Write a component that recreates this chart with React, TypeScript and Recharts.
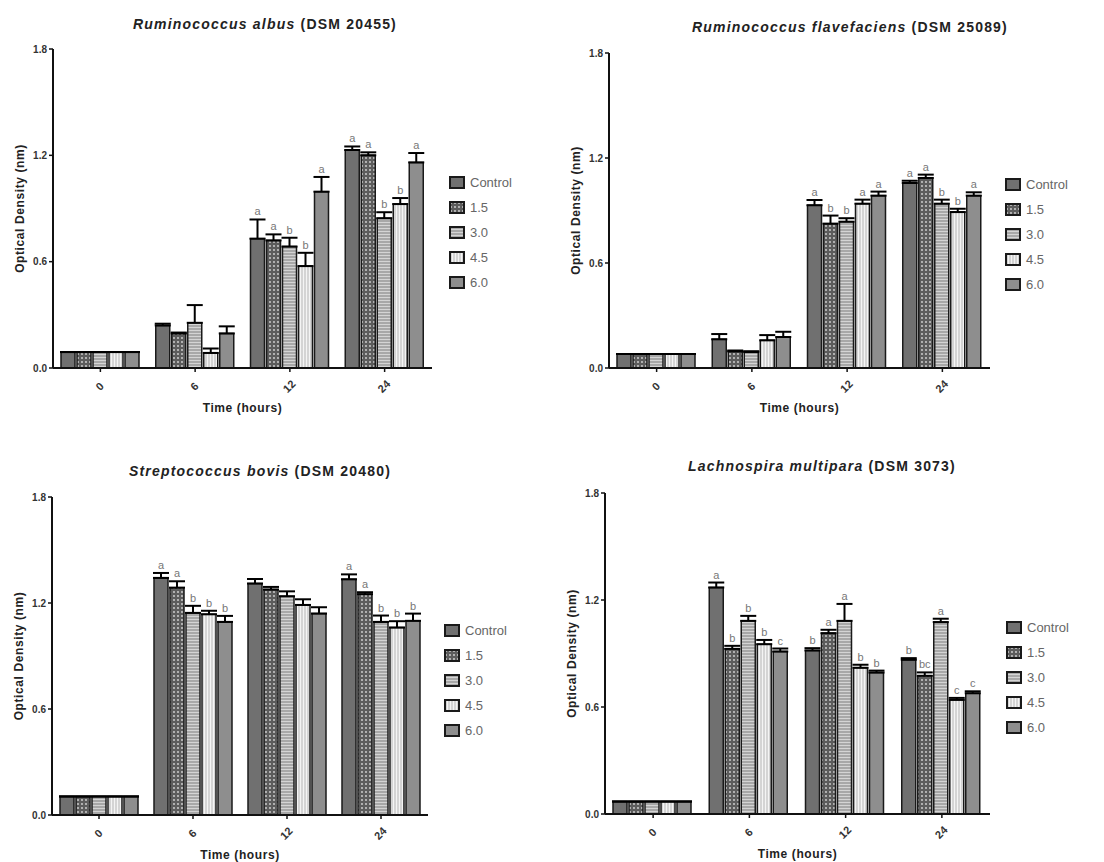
import React from 'react';
import { BarChart, Bar, XAxis, YAxis, ErrorBar, LabelList } from 'recharts';

const timeLabels = ['0', '6', '12', '24'];
const doseNames = ['Control', '1.5', '3.0', '4.5', '6.0'];
const yTicks = [0, 0.6, 1.2, 1.8];

// rows = dose (Control, 1.5, 3.0, 4.5, 6.0), columns = time (0, 6, 12, 24 h)
const albusMean = [
  [0.09, 0.24, 0.73, 1.23],
  [0.09, 0.195, 0.72, 1.2],
  [0.09, 0.255, 0.685, 0.845],
  [0.09, 0.085, 0.575, 0.925],
  [0.09, 0.195, 0.995, 1.16],
];
const albusErr = [
  [0, 0.01, 0.108, 0.02],
  [0, 0.005, 0.034, 0.017],
  [0, 0.1, 0.05, 0.034],
  [0, 0.025, 0.075, 0.034],
  [0, 0.04, 0.083, 0.053],
];
const albusLetters = [
  ['', '', 'a', 'a'],
  ['', '', 'a', 'a'],
  ['', '', 'b', 'b'],
  ['', '', 'b', 'b'],
  ['', '', 'a', 'a'],
];

const flaveMean = [
  [0.08, 0.164, 0.93, 1.057],
  [0.08, 0.095, 0.825, 1.086],
  [0.08, 0.091, 0.836, 0.939],
  [0.08, 0.158, 0.939, 0.891],
  [0.08, 0.177, 0.985, 0.985],
];
const flaveErr = [
  [0, 0.03, 0.03, 0.013],
  [0, 0.005, 0.046, 0.019],
  [0, 0.005, 0.02, 0.023],
  [0, 0.03, 0.023, 0.019],
  [0, 0.03, 0.023, 0.019],
];
const flaveLetters = [
  ['', '', 'a', 'a'],
  ['', '', 'b', 'a'],
  ['', '', 'b', 'b'],
  ['', '', 'a', 'b'],
  ['', '', 'a', 'a'],
];

const bovisMean = [
  [0.105, 1.342, 1.31, 1.334],
  [0.105, 1.287, 1.276, 1.25],
  [0.105, 1.144, 1.238, 1.093],
  [0.105, 1.136, 1.189, 1.061],
  [0.105, 1.093, 1.14, 1.099],
];
const bovisErr = [
  [0, 0.028, 0.026, 0.028],
  [0, 0.036, 0.015, 0.011],
  [0, 0.04, 0.028, 0.036],
  [0, 0.02, 0.032, 0.036],
  [0, 0.034, 0.036, 0.041],
];
const bovisLetters = [
  ['', 'a', '', 'a'],
  ['', 'a', '', 'a'],
  ['', 'b', '', 'b'],
  ['', 'b', '', 'b'],
  ['', 'b', '', 'b'],
];

const lachnoMean = [
  [0.07, 1.27, 0.917, 0.865],
  [0.07, 0.926, 1.014, 0.775],
  [0.07, 1.083, 1.083, 1.076],
  [0.07, 0.952, 0.82, 0.64],
  [0.07, 0.911, 0.793, 0.677],
];
const lachnoErr = [
  [0, 0.028, 0.013, 0.009],
  [0, 0.017, 0.019, 0.019],
  [0, 0.028, 0.095, 0.019],
  [0, 0.024, 0.017, 0.011],
  [0, 0.017, 0.011, 0.011],
];
const lachnoLetters = [
  ['', 'a', 'b', 'b'],
  ['', 'b', 'a', 'bc'],
  ['', 'b', 'a', 'a'],
  ['', 'b', 'b', 'c'],
  ['', 'c', 'b', 'c'],
];

const FONT = '"Liberation Sans", Arial, sans-serif';
const fills = ['#707070', 'url(#pat15)', 'url(#pat30)', 'url(#pat45)', '#8e8e8e'];

const Patterns = () => (
  <svg width={0} height={0} style={{ position: 'absolute' }}>
    <defs>
      <pattern id="pat15" width={4} height={4} patternUnits="userSpaceOnUse">
        <rect width={4} height={4} fill="#5c5c5c" />
        <circle cx={2} cy={2} r={0.9} fill="#d8d8d8" />
      </pattern>
      <pattern id="pat30" width={4} height={3} patternUnits="userSpaceOnUse">
        <rect width={4} height={3} fill="#a8a8a8" />
        <rect y={0} width={4} height={1} fill="#d4d4d4" />
      </pattern>
      <pattern id="pat45" width={3} height={4} patternUnits="userSpaceOnUse">
        <rect width={3} height={4} fill="#d4d4d4" />
        <rect x={0} width={1} height={4} fill="#f4f4f4" />
      </pattern>
    </defs>
  </svg>
);

const XTick = (props: any) => {
  const { x, y, payload } = props;
  return (
    <g transform={`translate(${x},${y + 13})`}>
      <text
        textAnchor="middle"
        dominantBaseline="middle"
        transform="rotate(-45)"
        fontSize={11}
        fontWeight="bold"
        fill="#333"
        fontFamily={FONT}
      >
        {payload.value}
      </text>
    </g>
  );
};

interface PanelProps {
  ox: number;
  oy: number;
  axisX: number;
  top: number;
  bottom: number;
  right: number;
  species: string;
  code: string;
  titleX: number;
  titleY: number;
  legendX: number;
  legendY: number;
  mean: number[][];
  err: number[][];
  letters: string[][];
}

const Panel = (p: PanelProps) => {
  const W = 552;
  const H = 432;
  const yAxisW = 40;
  const xAxisH = 44;
  const ppu = (p.bottom - p.top) / 1.8;

  const data = timeLabels.map((t, i) => {
    const row: any = { time: t };
    doseNames.forEach((_, s) => {
      row['s' + s] = p.mean[s][i];
      row['e' + s] = [0, p.err[s][i]];
      row['l' + s] = p.letters[s][i];
    });
    return row;
  });

  const letterLabel = (s: number) => (props: any) => {
    const { x, y, width, value, index } = props;
    if (!value || index === undefined) return null;
    const ey = y - p.err[s][index] * ppu;
    return (
      <text
        x={x + width / 2}
        y={ey - 4}
        textAnchor="middle"
        fontSize={11}
        fill="#777"
        fontFamily={FONT}
      >
        {value}
      </text>
    );
  };

  return (
    <>
      <div
        style={{
          position: 'absolute',
          left: p.titleX,
          top: p.titleY - 9,
          transform: 'translateX(-50%)',
          whiteSpace: 'nowrap',
          fontFamily: FONT,
          fontSize: 14,
          letterSpacing: 1.2,
          fontWeight: 'bold',
          color: '#222',
        }}
      >
        <i>{p.species}</i> ({p.code})
      </div>
      <div style={{ position: 'absolute', left: p.ox, top: p.oy }}>
        <BarChart
          width={W}
          height={H}
          data={data}
          barCategoryGap={8}
          barGap={2}
          margin={{
            top: p.top - p.oy,
            left: p.axisX - p.ox - yAxisW,
            right: p.ox + W - p.right,
            bottom: p.oy + H - p.bottom - xAxisH,
          }}
        >
          <XAxis
            dataKey="time"
            height={xAxisH}
            axisLine={{ stroke: '#111', strokeWidth: 2 }}
            tickLine={{ stroke: '#111', strokeWidth: 1.5 }}
            tickSize={4}
            tick={<XTick />}
            interval={0}
            label={{
              value: 'Time (hours)',
              position: 'insideBottom',
              offset: 0,
              style: { fontSize: 12, letterSpacing: 0.6, fontWeight: 'bold', fill: '#222', fontFamily: FONT },
            }}
          />
          <YAxis
            width={yAxisW}
            domain={[0, 1.8]}
            ticks={yTicks}
            tickFormatter={(v: number) => v.toFixed(1)}
            axisLine={{ stroke: '#111', strokeWidth: 2 }}
            tickLine={{ stroke: '#111', strokeWidth: 1.5 }}
            tickSize={4}
            tick={{ fontSize: 10, fontWeight: 'bold', fill: '#333', fontFamily: FONT }}
            label={{
              value: 'Optical Density (nm)',
              angle: -90,
              position: 'insideLeft',
              offset: 7,
              style: {
                textAnchor: 'middle',
                fontSize: 12,
                letterSpacing: 0.6,
                fontWeight: 'bold',
                fill: '#222',
                fontFamily: FONT,
              },
            }}
          />
          {doseNames.map((d, s) => (
            <Bar
              key={d}
              dataKey={'s' + s}
              name={d}
              fill={fills[s]}
              stroke="#1a1a1a"
              strokeWidth={1.5}
              isAnimationActive={false}
            >
              <ErrorBar dataKey={'e' + s} width={8} stroke="#000" strokeWidth={2} direction="y" />
              <LabelList dataKey={'l' + s} content={letterLabel(s)} />
            </Bar>
          ))}
        </BarChart>
      </div>
      <div style={{ position: 'absolute', left: p.legendX, top: p.legendY - 8 }}>
        {doseNames.map((d, s) => (
          <div key={d} style={{ display: 'flex', alignItems: 'center', height: 25 }}>
            <svg width={16} height={13} style={{ display: 'block' }}>
              <rect x={1} y={1} width={14} height={11} fill={fills[s]} stroke="#1a1a1a" strokeWidth={2} />
            </svg>
            <span
              style={{ marginLeft: 5, fontFamily: FONT, fontSize: 13, color: '#666', whiteSpace: 'nowrap' }}
            >
              {d}
            </span>
          </div>
        ))}
      </div>
    </>
  );
};

export default function App() {
  return (
    <div
      style={{
        position: 'absolute',
        left: 0,
        top: 0,
        width: 1104,
        height: 862,
        background: '#fff',
        overflow: 'hidden',
      }}
    >
      <Patterns />
      <Panel
        ox={0}
        oy={0}
        axisX={53}
        top={49}
        bottom={368}
        right={432}
        species="Ruminococcus albus"
        code="DSM 20455"
        titleX={265}
        titleY={25}
        legendX={449}
        legendY={178}
        mean={albusMean}
        err={albusErr}
        letters={albusLetters}
      />
      <Panel
        ox={552}
        oy={0}
        axisX={609}
        top={53}
        bottom={368}
        right={990}
        species="Ruminococcus flavefaciens"
        code="DSM 25089"
        titleX={850}
        titleY={28}
        legendX={1005}
        legendY={180}
        mean={flaveMean}
        err={flaveErr}
        letters={flaveLetters}
      />
      <Panel
        ox={0}
        oy={430}
        axisX={52}
        top={497}
        bottom={815}
        right={428}
        species="Streptococcus bovis"
        code="DSM 20480"
        titleX={260}
        titleY={472}
        legendX={444}
        legendY={626}
        mean={bovisMean}
        err={bovisErr}
        letters={bovisLetters}
      />
      <Panel
        ox={552}
        oy={430}
        axisX={605}
        top={493}
        bottom={814}
        right={990}
        species="Lachnospira multipara"
        code="DSM 3073"
        titleX={822}
        titleY={467}
        legendX={1006}
        legendY={623}
        mean={lachnoMean}
        err={lachnoErr}
        letters={lachnoLetters}
      />
    </div>
  );
}
